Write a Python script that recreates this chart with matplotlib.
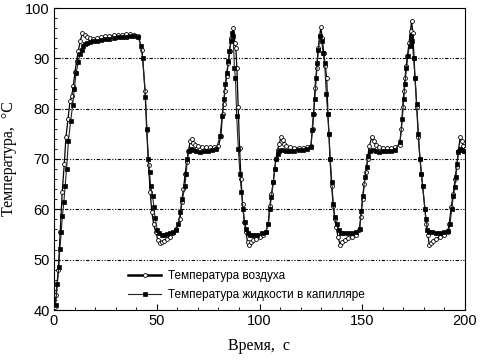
import matplotlib
matplotlib.use("Agg")
import matplotlib.pyplot as plt
from matplotlib.ticker import MultipleLocator

# ---- data ----
air_t = [0.3, 1.0, 2.1, 3.0, 4.0, 5.0, 5.8, 6.8, 7.8, 8.6, 9.4, 10.2, 11.0, 11.8, 12.8, 13.8,
         15, 16, 17.5, 19, 21, 23, 25, 27, 29, 31, 33, 35, 37, 39, 41,
         42.8, 44.3, 45.1, 46.0, 46.8, 47.6, 48.5, 49.5, 50.5, 51.5, 52.5, 53.5, 55, 56.5, 58, 59.5,
         61.3, 62.1, 63, 63.8, 64.6, 65.4, 66.3, 67.0, 67.8, 68.6, 70, 72, 74, 76, 78, 80,
         81.2, 82, 82.6, 83.2, 84, 84.8, 85.5, 86.3, 87.2, 88.0, 88.5, 89.0, 89.6, 90.3, 91, 91.8,
         92.6, 93.4, 94.2, 95, 96, 97, 98.5, 100, 101.5, 103, 104.2, 105, 105.8, 106.7, 107.4, 108,
         108.8, 109.6, 110.4, 111.2, 112, 113, 115, 117, 119, 121, 123, 125,
         125.8, 126.4, 127, 127.8, 128.6, 129.3, 129.8, 130.5, 131.3, 132, 132.7, 133.3, 133.8, 134.3,
         135.1, 135.9, 136.6, 137.3, 138.2, 139.2, 140.2, 141.5, 143, 145, 147, 148.5,
         149.3, 150.2, 151, 151.8, 152.6, 153.4, 154.6, 155.6, 156.6, 158, 160, 162, 164, 166, 168.2,
         169, 169.7, 170.3, 170.8, 171.4, 172, 172.8, 173.5, 174, 174.6, 175.2, 175.7, 176.5, 177.3,
         178.1, 178.8, 179.4, 180.5, 181.2, 181.9, 182.6, 183.5, 184.5, 186, 188, 190, 191.5,
         192.3, 193.3, 194.3, 195.2, 196, 196.8, 197.6, 198.4, 199.2, 200]
air_T = [40.5, 43, 48, 55.5, 63.5, 69, 74.3, 78, 81.5, 82.5, 84.5, 87.2, 89.5, 91.4, 93.5, 95.0,
         94.6, 94.2, 94.0, 93.8, 94.0, 94.2, 94.4, 94.5, 94.6, 94.7, 94.7, 94.8, 94.8, 94.7, 94.5,
         91.7, 83.6, 75.8, 68.8, 63.5, 59.5, 57, 55.5, 54, 53.3, 53.5, 53.8, 54.2, 54.6, 55.2, 56,
         58, 61.5, 64, 67, 69.5, 71.5, 73.5, 74.0, 73.2, 72.8, 72.5, 72.3, 72.3, 72.3, 72.4, 72.5,
         74.5, 78.9, 81, 83.6, 86.5, 89, 91.5, 94, 96, 93, 92, 88, 80.4, 72.2, 66, 61,
         57.5, 55.5, 53.5, 53, 53.5, 54, 54.2, 54.6, 55, 55.5, 57, 60.6, 63, 65.4, 68, 70,
         71.8, 73, 74.3, 73.8, 73, 72.5, 72.3, 72.2, 72.2, 72.2, 72.3, 72.5,
         76, 79, 84.1, 88, 92, 94.5, 96.2, 94, 91, 88.5, 86, 79, 75, 70,
         64.6, 60.6, 58, 56.5, 54.5, 53, 53.5, 54, 54.3, 54.5, 55, 55.8,
         58.5, 62, 65, 67.5, 70, 72.5, 74.3, 73.5, 72.8, 72.3, 72.2, 72.2, 72.2, 72.3, 72.8,
         76, 80.4, 83.5, 86, 88.5, 90.5, 93, 95.5, 97.5, 95, 90, 86, 80.4, 74.3,
         70, 67, 64.6, 60, 57, 55, 53, 53.4, 53.8, 54.2, 54.6, 55, 55.5,
         57, 60.5, 63, 66, 68.5, 71.5, 74.3, 73.5, 72.5, 72]

liq_t = [0.8, 1.6, 2.3, 2.9, 3.5, 4.1, 4.8, 5.4, 6.1, 7.0, 8.1, 9.1, 9.9, 10.7, 11.8, 12.6, 13.5, 14.3,
         15.2, 16, 17.5, 19, 21, 23, 25, 27, 29, 31, 33, 35, 37, 39, 41,
         42.3, 43.2, 44.5, 45.2, 45.9, 46.5, 47, 48, 48.6, 49.2, 50.3, 51.3, 52.4, 53.5, 55, 56.5, 58, 59.5,
         60.5, 61.5, 62.5, 63.7, 64.3, 64.9, 65.6, 66.5, 67.5, 69, 71, 73, 75, 77, 79,
         80.8, 81.8, 82.7, 83.4, 84, 84.7, 85.3, 86, 86.5, 87.2, 87.8, 88.3, 88.9, 89.7, 90.5, 91.2, 92,
         92.8, 93.6, 94.5, 95.5, 97, 99, 101, 103, 104.3, 105, 105.8, 106.7, 107.4, 108, 108.8, 109.6,
         111, 113, 115, 117, 119, 121, 123, 125,
         125.6, 126.2, 126.9, 127.6, 128.1, 128.6, 129.4, 130.2, 131, 131.7, 132.5, 133.2, 133.8, 134.4,
         135.2, 135.9, 136.7, 137.5, 138.5, 139.5, 141, 143, 145, 147, 148.8,
         149.5, 150.2, 151.3, 152.2, 153, 154, 155, 156.5, 158, 160, 162, 164, 166,
         168.4, 169.5, 170.2, 170.8, 171.5, 172.2, 173, 173.6, 174.3, 175, 175.7, 176.5, 177.3,
         178.1, 178.8, 179.4, 180.5, 181.1, 181.7, 182.6, 184, 186, 188, 190, 191.9,
         192.7, 193.5, 194.3, 195, 195.6, 196.2, 196.7, 197.5, 198.5, 199.5, 200]
liq_T = [41, 45.1, 48.5, 52.2, 55.5, 58.7, 61.5, 64.6, 68, 73.5, 77.5, 80.8, 84, 87, 89.2, 90.8, 91.7, 92.5,
         92.8, 93, 93.2, 93.4, 93.5, 93.6, 93.8, 93.9, 94, 94.2, 94.3, 94.3, 94.4, 94.4, 94.2,
         92.5, 90, 82.3, 76, 70, 67.5, 64.6, 62.6, 60.5, 58.3, 55.8, 55.3, 55, 55, 55.1, 55.2, 55.4, 55.8,
         57, 59.5, 62, 64.6, 67, 70, 71.5, 72, 71.8, 71.5, 71.4, 71.5, 71.6, 71.8, 72,
         74.6, 78.5, 82, 85, 87, 89.5, 91.4, 93.5, 95, 94.5, 88, 86, 78.5, 72, 67, 63.5, 60,
         57.5, 56, 55.3, 55, 55, 55, 55.2, 55.5, 57, 60, 62.5, 65.4, 68, 70, 71, 71.5,
         71.8, 71.5, 71.5, 71.6, 71.7, 71.8, 72, 72.3,
         75.8, 78.9, 82, 86, 89, 91.7, 94.4, 93.5, 91, 89, 83, 79, 75, 70,
         65.5, 61, 58.5, 57, 55.8, 55.3, 55.2, 55.2, 55.3, 55.4, 56,
         59.6, 62.6, 66.5, 68.5, 70.6, 71.5, 71.8, 71.5, 71.4, 71.5, 71.5, 71.6, 71.8,
         73.4, 78, 82, 85, 88, 90.5, 92.5, 94.4, 93.5, 90, 86, 81, 75,
         70, 67, 64.6, 60, 58, 55.8, 55.5, 55.4, 55.3, 55.3, 55.4, 55.6,
         57, 60, 62.6, 64.5, 66.5, 69, 71.3, 72, 71.8, 71.5, 71.5]

air_label = "Температура воздуха"
liq_label = "Температура жидкости в капилляре"
x_ticks = [0, 50, 100, 150, 200]
y_ticks = [40, 50, 60, 70, 80, 90, 100]
grid_levels = [50, 60, 70, 80, 90]

fig = plt.figure(figsize=(4.85, 3.64), dpi=100)
ax = fig.add_axes([54/485, 1 - 310/364, (465 - 54)/485, (310 - 8)/364])

for g in grid_levels:
    ax.axhline(g, color="black", lw=0.8, ls=(0, (3, 1.5, 1, 1.5, 1, 1.5)), zorder=1)

ax.plot(air_t, air_T, color="black", lw=0.9, marker="o", ms=2.8, mfc="white",
        mec="black", mew=0.6, label=air_label, zorder=3)
ax.plot(liq_t, liq_T, color="#222222", lw=0.8, marker="s", ms=2.8, mfc="black",
        mec="black", mew=0.5, label=liq_label, zorder=4)

ax.set_xlim(0, 200)
ax.set_ylim(40, 100)
ax.set_xticks(x_ticks)
ax.set_yticks(y_ticks)
ax.xaxis.set_minor_locator(MultipleLocator(10))
ax.yaxis.set_minor_locator(MultipleLocator(2))
ax.tick_params(which="both", direction="in", top=False, right=False)
ax.tick_params(which="major", length=4, width=0.8, labelsize=10.5, pad=3)
ax.tick_params(which="minor", length=2, width=0.6)
for lab in ax.get_xticklabels() + ax.get_yticklabels():
    lab.set_family("Liberation Sans")

for s in ax.spines.values():
    s.set_linewidth(0.8)

ax.set_xlabel("Время,  с", family="Liberation Serif", fontsize=11.5, labelpad=7)
ax.set_ylabel("Температура,  °C", family="Liberation Serif", fontsize=11.5, labelpad=6)

leg = ax.legend(loc="lower left", bbox_to_anchor=(0.155, -0.005), frameon=False,
                prop={"family": "Liberation Sans", "size": 8.5},
                handlelength=2.8, handletextpad=0.6, labelspacing=0.6)
leg.get_lines()[0].set_linewidth(1.8)

fig.savefig("out.png", dpi=100)
